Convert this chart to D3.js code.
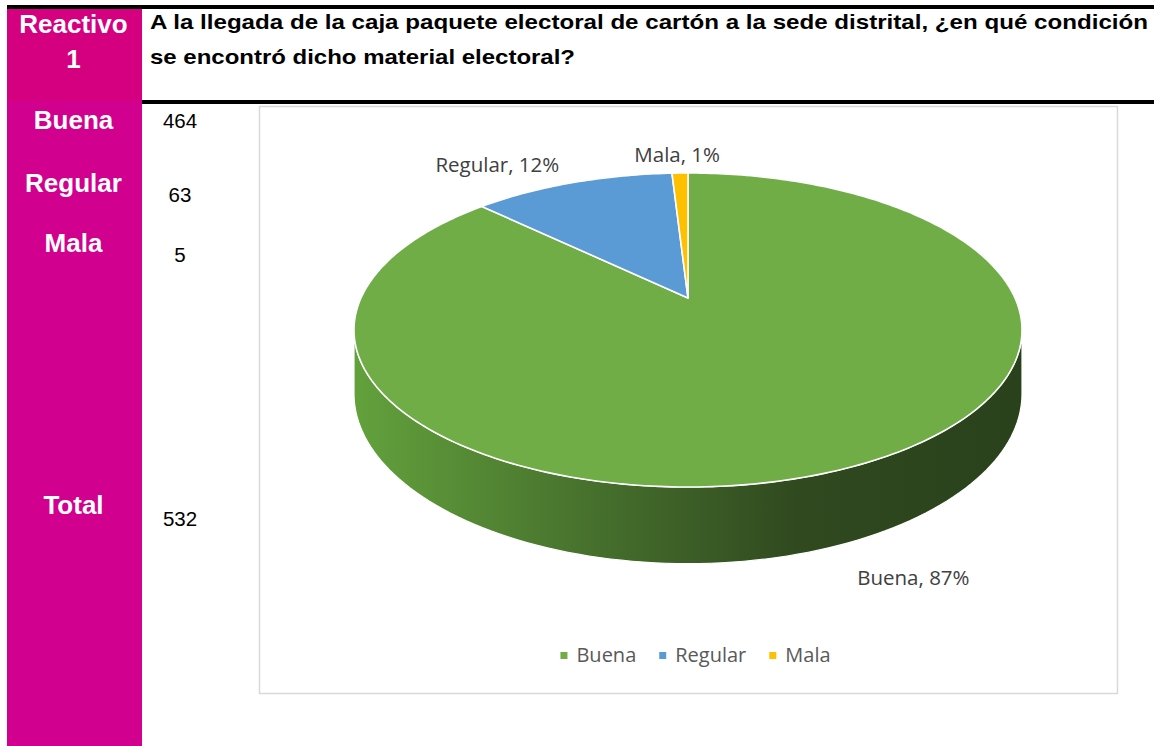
<!DOCTYPE html>
<html>
<head>
<meta charset="utf-8">
<script src="https://cdn.jsdelivr.net/npm/d3@7"></script>
<style>
  body { margin: 0; background: #fff; }
  svg { display: block; }
</style>
</head>
<body>
<script>
var categories = ["Buena", "Regular", "Mala"];
var counts = [464, 63, 5];
var total = 532;
var colors = ["#70AD47", "#5B9BD5", "#FFC000"];
var question = ["A la llegada de la caja paquete electoral de cartón a la sede distrital, ¿en qué condición",
                "se encontró dicho material electoral?"];

var width = 1154, height = 746;

var svg = d3.select("body").append("svg")
  .attr("width", width)
  .attr("height", height);

//left magenta column
svg.append("rect").attr("x", 7).attr("y", 9).attr("width", 135).attr("height", 92).attr("fill", "#D5007F");
svg.append("rect").attr("x", 7).attr("y", 101).attr("width", 135).attr("height", height - 101).attr("fill", "#D2008F");

//black rules
svg.append("rect").attr("x", 7).attr("y", 5).attr("width", width - 7).attr("height", 4).attr("fill", "#000");
svg.append("rect").attr("x", 142).attr("y", 100).attr("width", width - 142).attr("height", 4).attr("fill", "#000");

var head = svg.append("g").attr("font-family", "'Liberation Sans', Arial, sans-serif")
  .attr("font-weight", "bold");

head.append("text").attr("x", 73.5).attr("y", 33).attr("text-anchor", "middle")
  .attr("fill", "#fff").attr("font-size", 26).text("Reactivo");
head.append("text").attr("x", 73.5).attr("y", 68).attr("text-anchor", "middle")
  .attr("fill", "#fff").attr("font-size", 26).text("1");

//question text, stretched to the widths it has in the original
var qWidth = [998, 425];
question.forEach(function(q, i){
  head.append("text").attr("x", 150).attr("y", 29 + i * 35)
    .attr("fill", "#000").attr("font-size", 20.5)
    .attr("textLength", qWidth[i]).attr("lengthAdjust", "spacingAndGlyphs")
    .text(q);
});

//row labels and values
var rowY = [129, 192, 252];
var valY = [128, 202, 262];
categories.forEach(function(c, i){
  head.append("text").attr("x", 73.5).attr("y", rowY[i]).attr("text-anchor", "middle")
    .attr("fill", "#fff").attr("font-size", 26).text(c);
  svg.append("text").attr("x", 180).attr("y", valY[i]).attr("text-anchor", "middle")
    .attr("font-family", "'Liberation Sans', Arial, sans-serif").attr("font-size", 20.5)
    .attr("fill", "#000").text(counts[i]);
});
head.append("text").attr("x", 73.5).attr("y", 514).attr("text-anchor", "middle")
  .attr("fill", "#fff").attr("font-size", 26).text("Total");
svg.append("text").attr("x", 180).attr("y", 526).attr("text-anchor", "middle")
  .attr("font-family", "'Liberation Sans', Arial, sans-serif").attr("font-size", 20.5)
  .attr("fill", "#000").text(total);

//chart frame
svg.append("rect").attr("x", 259.5).attr("y", 106.5).attr("width", 858).attr("height", 587)
  .attr("fill", "#fff").attr("stroke", "#d9d9d9").attr("stroke-width", 1.5);

//3D pie: perspective projection of a tilted disc
var cx = 688, cy = 298, A = 327, B = 150.5, k = 0.2038, H = 61;

function proj(a, r, down){
  //a: angle clockwise from 12 o'clock
  var u = Math.sin(a) * r, v = -Math.cos(a) * r;
  var z = 1 - k * v;
  return [cx + A * u / z, cy + B * v / z + (down ? H / z : 0)];
}

var pie = d3.pie().sort(null).value(function(d){ return d; });
var arcs = pie(counts);
var line = d3.line();

//side wall (front half)
var grad = svg.append("defs").append("linearGradient")
  .attr("id", "side").attr("gradientUnits", "userSpaceOnUse")
  .attr("x1", cx - A).attr("x2", cx + A).attr("y1", 0).attr("y2", 0);
[[0, "#62a03c"], [0.37, "#456e2c"], [0.67, "#30491f"], [1, "#2a421c"]].forEach(function(s){
  grad.append("stop").attr("offset", s[0]).attr("stop-color", s[1]);
});

var a0 = Math.acos(-k), a1 = 2 * Math.PI - Math.acos(-k);
var sidePts = d3.range(0, 101).map(function(i){ return proj(a0 + (a1 - a0) * i / 100, 1, false); })
  .concat(d3.range(100, -1, -1).map(function(i){ return proj(a0 + (a1 - a0) * i / 100, 1, true); }));
svg.append("path").attr("d", line(sidePts) + "Z")
  .attr("fill", "url(#side)").attr("stroke", "#fff").attr("stroke-width", 1.2);

//top face slices
svg.selectAll(".slice").data(arcs).enter().append("path")
  .attr("class", "slice")
  .attr("d", function(d){
    var n = Math.max(4, Math.ceil((d.endAngle - d.startAngle) * 60));
    var pts = [[cx, cy]].concat(d3.range(n + 1).map(function(i){
      return proj(d.startAngle + (d.endAngle - d.startAngle) * i / n, 1, false);
    }));
    return line(pts) + "Z";
  })
  .attr("fill", function(d, i){ return colors[i]; })
  .attr("stroke", "#fff").attr("stroke-width", 1.6).attr("stroke-linejoin", "round");

//data labels
var fmt = d3.format(".0%");
svg.selectAll(".lbl").data(arcs).enter().append("text")
  .attr("class", "lbl")
  .each(function(d, i){
    var m = (d.startAngle + d.endAngle) / 2;
    var p = proj(m, 1.12, false);
    var u = Math.sin(m), v = -Math.cos(m);
    var anchor = u < -0.1 ? "end" : (u > 0.1 ? "start" : "middle");
    var x = p[0], y = p[1];
    if (v > 0) { x -= 12; y += H / (1 - k * v * 1.12) + 13; }
    else { x -= (anchor === "end" ? 2 : 2); y += 1; }
    d3.select(this).attr("x", x).attr("y", y).attr("text-anchor", anchor)
      .text(categories[i] + ", " + fmt(counts[i] / total));
  })
  .attr("font-family", "'Open Sans', sans-serif").attr("font-size", 20.5).attr("fill", "#404040");

//legend
var leg = svg.append("g").attr("font-family", "'Open Sans', sans-serif").attr("font-size", 20).attr("fill", "#595959");
var items = leg.selectAll("g").data(categories).enter().append("g");
items.append("rect").attr("width", 7).attr("height", 7).attr("y", -10)
  .attr("fill", function(d, i){ return colors[i]; });
items.append("text").attr("x", 16).text(function(d){ return d; });
var xs = 0, pos = [];
items.each(function(){
  pos.push(xs);
  xs += 16 + d3.select(this).select("text").node().getComputedTextLength() + 23;
});
xs -= 23;
var lx = 695.5 - xs / 2;
items.attr("transform", function(d, i){ return "translate(" + (lx + pos[i]) + ",662)"; });
</script>
</body>
</html>
